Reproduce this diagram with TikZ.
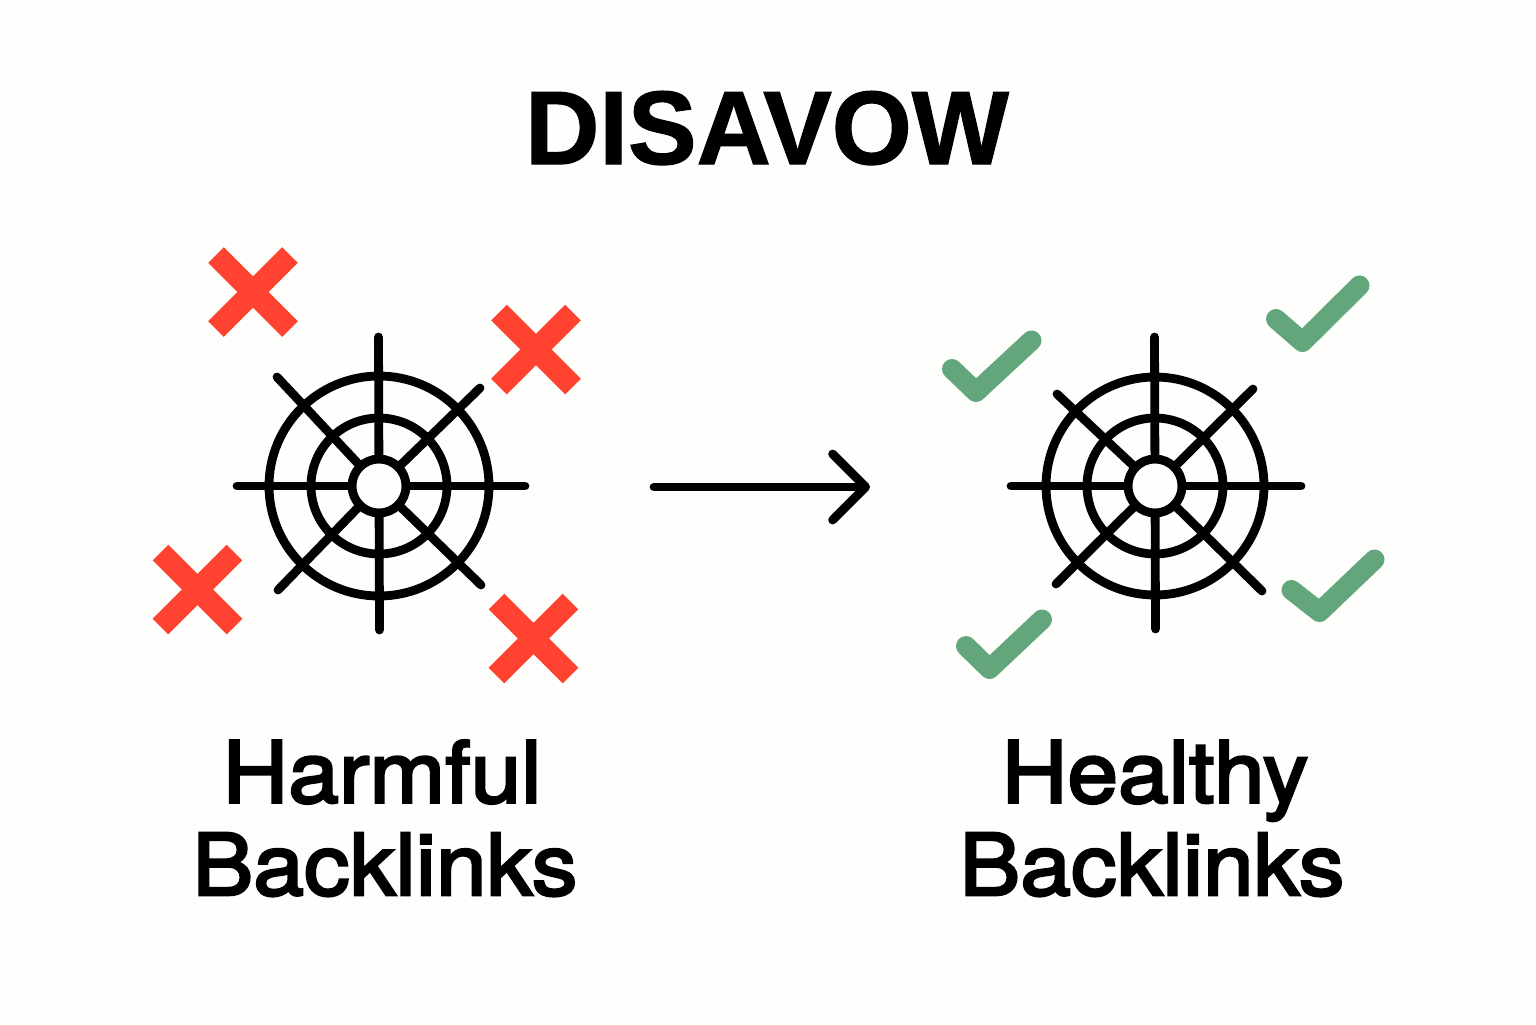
\documentclass[tikz,border=0pt]{standalone}
\usepackage{fontspec}
\setmainfont{Liberation Sans}
\newfontfamily\titlefont[FakeBold=1.2,FakeStretch=0.985]{Liberation Sans Bold}
\newfontfamily\labelfont[FakeBold=3,FakeStretch=1.07]{TeX Gyre Heros}
\usetikzlibrary{arrows.meta}
\definecolor{paper}{HTML}{FEFEFC}
\definecolor{crossred}{HTML}{FF4330}
\definecolor{checkgreen}{HTML}{63A67B}
\tikzset{
  x=0.5pt,y=-0.5pt,
  webline/.style={draw=black,line width=4.4pt,line cap=round},
  webring/.style={draw=black,line width=4.4pt,circle,inner sep=0pt,outer sep=0pt},
  crossarm/.style={draw=crossred,line width=11pt,line cap=butt},
  checkline/.style={draw=checkgreen,line width=10pt,line cap=round,line join=round},
  titletext/.style={font=\titlefont\fontsize{52.2}{52}\selectfont,anchor=base,inner sep=0pt},
  labeltext/.style={font=\labelfont\fontsize{42.6}{46}\selectfont,anchor=base,inner sep=0pt},
  flow/.style={draw=black,line width=4.4pt,line cap=round,-{Straight Barb[length=16.5pt,width=33pt,round]}},
  crossmark/.pic={\draw[crossarm] (-37,-37) -- (37,37); \draw[crossarm] (37,-37) -- (-37,37);}
}
\begin{document}
\begin{tikzpicture}
\useasboundingbox[fill=paper] (0,0) rectangle (1536,1024);
\node[titletext] (title) at (767,164) {DISAVOW};
% left web
\node[webring,minimum size=110pt] (lo) at (379,486) {};
\node[webring,minimum size=68pt] (lm) at (379,486) {};
\node[webring,minimum size=27pt] (lh) at (379,486) {};
\coordinate (lT) at (378.5,337); \coordinate (lB) at (379.5,630);
\coordinate (lL) at (237,486); \coordinate (lR) at (525,486);
\coordinate (lTL) at (277,377); \coordinate (lTR) at (480,388);
\coordinate (lBL) at (278,590); \coordinate (lBR) at (481,585);
\foreach \p in {lT,lB,lL,lR,lTL,lTR,lBL,lBR}{\draw[webline] (lh) -- (\p);}
% right web
\node[webring,minimum size=109pt] (ro) at (1155,486) {};
\node[webring,minimum size=68pt] (rm) at (1155,486) {};
\node[webring,minimum size=27pt] (rh) at (1155,486) {};
\coordinate (rT) at (1154.5,337); \coordinate (rB) at (1155.5,629);
\coordinate (rL) at (1011,486); \coordinate (rR) at (1301,486);
\coordinate (rTL) at (1057,394); \coordinate (rTR) at (1253,389);
\coordinate (rBL) at (1056,584); \coordinate (rBR) at (1262,591);
\foreach \p in {rT,rB,rL,rR,rTL,rTR,rBL,rBR}{\draw[webline] (rh) -- (\p);}
% crosses
\pic at (253,292) {crossmark};
\pic at (536,349.5) {crossmark};
\pic at (197.5,589.5) {crossmark};
\pic at (533.5,638.5) {crossmark};
% checks
\draw[checkline] (952,369) -- (976,392) -- (1031.5,340.5);
\draw[checkline] (1276,319) -- (1302.5,342) -- (1359.5,285.5);
\draw[checkline] (1291.5,590) -- (1319.5,612) -- (1374.5,559.5);
\draw[checkline] (966,646) -- (989.5,669) -- (1042,619.5);
% arrow
\coordinate (as) at (654,487);
\coordinate (ae) at (870,487);
\draw[flow] (as) -- (ae);
% labels
\node[labeltext] (h1) at (382,802.5) {Harmful};
\node[labeltext] (b1) at (385,895) {Backlinks};
\node[labeltext] (h2) at (1155,802.5) {Healthy};
\node[labeltext] (b2) at (1152,895) {Backlinks};
\end{tikzpicture}
\end{document}
